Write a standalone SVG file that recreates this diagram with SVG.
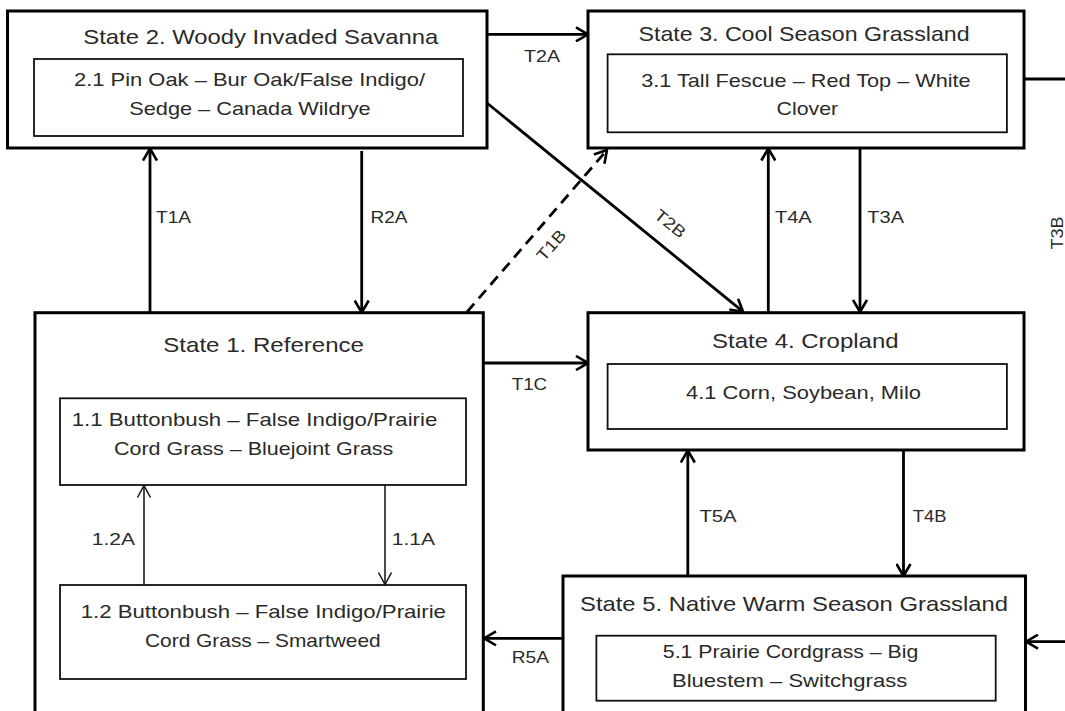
<svg xmlns="http://www.w3.org/2000/svg" width="1065" height="711" viewBox="0 0 1065 711">
<style>
.outer{fill:#fff;stroke:#000;stroke-width:3}
.inner{fill:#fff;stroke:#111;stroke-width:1.8}
text{font-family:"Liberation Sans",Arial,sans-serif;fill:#2a2a2a}
.t{font-size:21px}
.s{font-size:18.5px}
.l{font-size:16.5px}
.c{fill:none;stroke:#000;stroke-width:2.8;marker-end:url(#ah)}
.thin{fill:none;stroke:#111;stroke-width:1.5;marker-end:url(#ahs)}
.dash{stroke-dasharray:11 7}
</style>
<defs>
<marker id="ah" markerUnits="userSpaceOnUse" viewBox="0 0 14 16" refX="13" refY="8" markerWidth="14" markerHeight="16" orient="auto">
<path d="M1,1 L13,8 L1,15" fill="none" stroke="#000" stroke-width="2.6"/>
</marker>
<marker id="ahs" markerUnits="userSpaceOnUse" viewBox="0 0 14 16" refX="13" refY="8" markerWidth="14" markerHeight="16" orient="auto">
<path d="M1,1.5 L13,8 L1,14.5" fill="none" stroke="#111" stroke-width="1.5"/>
</marker>
</defs>
<rect width="1065" height="711" fill="#fff"/>

<g id="state2">
<rect class="outer" x="7.5" y="11" width="479.5" height="137"/>
<text class="t" x="83.3" y="44.3" textLength="355" lengthAdjust="spacingAndGlyphs">State 2. Woody Invaded Savanna</text>
<rect class="inner" x="34" y="59" width="429" height="77"/>
<text class="s" x="74" y="86" textLength="351" lengthAdjust="spacingAndGlyphs">2.1 Pin Oak – Bur Oak/False Indigo/</text>
<text class="s" x="129.3" y="115" textLength="241.4" lengthAdjust="spacingAndGlyphs">Sedge – Canada Wildrye</text>
</g>

<g id="state3">
<rect class="outer" x="588" y="11" width="436" height="137"/>
<text class="t" x="638.6" y="40.7" textLength="331" lengthAdjust="spacingAndGlyphs">State 3. Cool Season Grassland</text>
<rect class="inner" x="607.6" y="54.3" width="399.3" height="78"/>
<text class="s" x="641.2" y="87.3" textLength="329.5" lengthAdjust="spacingAndGlyphs">3.1 Tall Fescue – Red Top – White</text>
<text class="s" x="776.6" y="115" textLength="61.6" lengthAdjust="spacingAndGlyphs">Clover</text>
</g>

<g id="state1">
<rect class="outer" x="35" y="312.7" width="448.3" height="420"/>
<text class="t" x="163.3" y="351.7" textLength="200.7" lengthAdjust="spacingAndGlyphs">State 1. Reference</text>
<g id="phase1-1">
<rect class="inner" x="60" y="398.3" width="406" height="86.7"/>
<text class="s" x="71.7" y="426" textLength="365.6" lengthAdjust="spacingAndGlyphs">1.1 Buttonbush – False Indigo/Prairie</text>
<text class="s" x="114" y="455" textLength="279.3" lengthAdjust="spacingAndGlyphs">Cord Grass – Bluejoint Grass</text>
</g>
<g id="phase1-2">
<rect class="inner" x="60" y="585" width="406" height="94"/>
<text class="s" x="80.7" y="618.3" textLength="365.3" lengthAdjust="spacingAndGlyphs">1.2 Buttonbush – False Indigo/Prairie</text>
<text class="s" x="145" y="646.7" textLength="235.7" lengthAdjust="spacingAndGlyphs">Cord Grass – Smartweed</text>
</g>
</g>

<g id="state4">
<rect class="outer" x="588" y="312.7" width="436" height="137.3"/>
<text class="t" x="712" y="348.3" textLength="186.6" lengthAdjust="spacingAndGlyphs">State 4. Cropland</text>
<rect class="inner" x="607.6" y="364" width="399.3" height="65"/>
<text class="s" x="686" y="399" textLength="235" lengthAdjust="spacingAndGlyphs">4.1 Corn, Soybean, Milo</text>
</g>

<g id="state5">
<rect class="outer" x="563" y="576" width="462.5" height="160"/>
<text class="t" x="580" y="610.7" textLength="428" lengthAdjust="spacingAndGlyphs">State 5. Native Warm Season Grassland</text>
<rect class="inner" x="596.4" y="635.7" width="399.3" height="65"/>
<text class="s" x="662.8" y="658.3" textLength="255.6" lengthAdjust="spacingAndGlyphs">5.1 Prairie Cordgrass – Big</text>
<text class="s" x="672" y="686.7" textLength="235.2" lengthAdjust="spacingAndGlyphs">Bluestem – Switchgrass</text>
</g>

<g id="connectors">
<line class="c" x1="487" y1="34.3" x2="588" y2="34.3"/>
<line class="c" x1="487" y1="103" x2="743" y2="311.7"/>
<line class="c" x1="150" y1="312.7" x2="150" y2="148.5"/>
<line class="c" x1="361.7" y1="151" x2="361.7" y2="312.5"/>
<line class="c dash" x1="467" y1="312" x2="607" y2="150"/>
<line class="c" x1="768.3" y1="312" x2="768.3" y2="148.5"/>
<line class="c" x1="860" y1="148" x2="860" y2="312"/>
<line x1="1024" y1="79" x2="1066" y2="79" stroke="#000" stroke-width="2.8"/>
<line class="c" x1="483" y1="363" x2="588" y2="363"/>
<line class="c" x1="687.8" y1="576" x2="687.8" y2="450.5"/>
<line class="c" x1="903.5" y1="450" x2="903.5" y2="576"/>
<line class="c" x1="563" y1="638.3" x2="484" y2="638.3"/>
<line class="c" x1="1066" y1="641.7" x2="1026" y2="641.7"/>
<line class="thin" x1="144" y1="585" x2="144" y2="485.5"/>
<line class="thin" x1="385" y1="485" x2="385" y2="584.5"/>
<text class="l" x="524" y="61.7" textLength="36" lengthAdjust="spacingAndGlyphs">T2A</text>
<text class="l" x="156" y="223.3" textLength="35" lengthAdjust="spacingAndGlyphs">T1A</text>
<text class="l" x="370.5" y="223.3" textLength="37" lengthAdjust="spacingAndGlyphs">R2A</text>
<text class="l" x="775" y="223" textLength="36.7" lengthAdjust="spacingAndGlyphs">T4A</text>
<text class="l" x="867.3" y="223" textLength="36.7" lengthAdjust="spacingAndGlyphs">T3A</text>
<text class="l" x="511.7" y="390" textLength="35.5" lengthAdjust="spacingAndGlyphs">T1C</text>
<text class="l" x="91.7" y="545" textLength="43.3" lengthAdjust="spacingAndGlyphs">1.2A</text>
<text class="l" x="391.7" y="545" textLength="43.3" lengthAdjust="spacingAndGlyphs">1.1A</text>
<text class="l" x="699.4" y="522.3" textLength="37.3" lengthAdjust="spacingAndGlyphs">T5A</text>
<text class="l" x="912.8" y="522" textLength="33.6" lengthAdjust="spacingAndGlyphs">T4B</text>
<text class="l" x="511.7" y="662.7" textLength="37.3" lengthAdjust="spacingAndGlyphs">R5A</text>
<text class="l" transform="translate(1063,233) rotate(-90)" x="0" y="0" text-anchor="middle" textLength="33" lengthAdjust="spacingAndGlyphs">T3B</text>
<text class="l" transform="translate(551,245) rotate(-49)" x="0" y="6" text-anchor="middle" textLength="35" lengthAdjust="spacingAndGlyphs">T1B</text>
<text class="l" transform="translate(670.4,223.3) rotate(39)" x="0" y="6" text-anchor="middle" textLength="35" lengthAdjust="spacingAndGlyphs">T2B</text>
</g>
</svg>
